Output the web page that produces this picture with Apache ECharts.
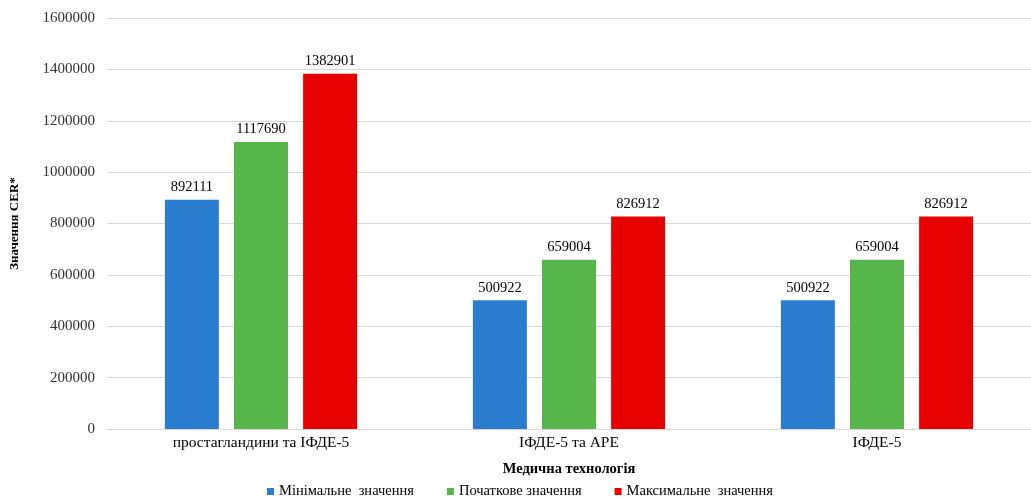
<!DOCTYPE html>
<html><head><meta charset="utf-8">
<script src="https://cdn.jsdelivr.net/npm/echarts@6/dist/echarts.min.js"></script>
<style>html,body{margin:0;padding:0;background:#fff}#c{width:1031px;height:498px}</style>
</head><body><div id="c"></div>
<script>
const categories = ['простагландини та ІФДЕ-5', 'ІФДЕ-5 та АРЕ', 'ІФДЕ-5'];
const minValues = [892111, 500922, 500922];
const startValues = [1117690, 659004, 659004];
const maxValues = [1382901, 826912, 826912];
const seriesNames = ['Мінімальне  значення', 'Початкове значення', 'Максимальне  значення'];
const yTicks = [0, 200000, 400000, 600000, 800000, 1000000, 1200000, 1400000, 1600000];

const FONT = '"Liberation Serif", "DejaVu Serif", serif';
const colors = ['#2B7ECF', '#56B54B', '#E60000'];
const chart = echarts.init(document.getElementById('c'));
const mk = (name, data, color) => ({
  name, type: 'bar', data, barWidth: 54, barGap: '28%',
  itemStyle: { color },
  label: { show: true, position: 'top', distance: 5, color: '#000', fontFamily: FONT, fontSize: 14.5 }
});
chart.setOption({
  animation: false,
  color: colors,
  textStyle: { fontFamily: FONT },
  grid: { left: 104, top: 18, width: 932, bottom: 69, containLabel: false },
  legend: {
    top: 484, left: 267, padding: 0, itemWidth: 7, itemHeight: 7, itemGap: 33, icon: 'rect',
    textStyle: { fontFamily: FONT, fontSize: 14.5, color: '#000' },
    data: seriesNames
  },
  xAxis: {
    type: 'category', data: categories,
    name: 'Медична технологія', nameLocation: 'middle', nameGap: 33,
    nameTextStyle: { fontFamily: FONT, fontSize: 14.5, fontWeight: 'bold', color: '#000' },
    axisLine: { lineStyle: { color: '#d9d9d9' } }, axisTick: { show: false },
    axisLabel: { fontFamily: FONT, fontSize: 15.5, color: '#000', margin: 6 }
  },
  yAxis: {
    type: 'value', min: yTicks[0], max: yTicks[yTicks.length - 1], interval: yTicks[1] - yTicks[0],
    name: 'Значення CER*', nameLocation: 'middle', nameGap: 86, nameRotate: 90,
    nameTextStyle: { fontFamily: FONT, fontSize: 13, fontWeight: 'bold', color: '#000' },
    axisLine: { show: false }, axisTick: { show: false },
    splitLine: { lineStyle: { color: '#d9d9d9' } },
    axisLabel: { fontFamily: FONT, fontSize: 15, color: '#333', margin: 12, formatter: v => String(v) }
  },
  series: [mk(seriesNames[0], minValues, colors[0]), mk(seriesNames[1], startValues, colors[1]), mk(seriesNames[2], maxValues, colors[2])]
});
</script></body></html>
